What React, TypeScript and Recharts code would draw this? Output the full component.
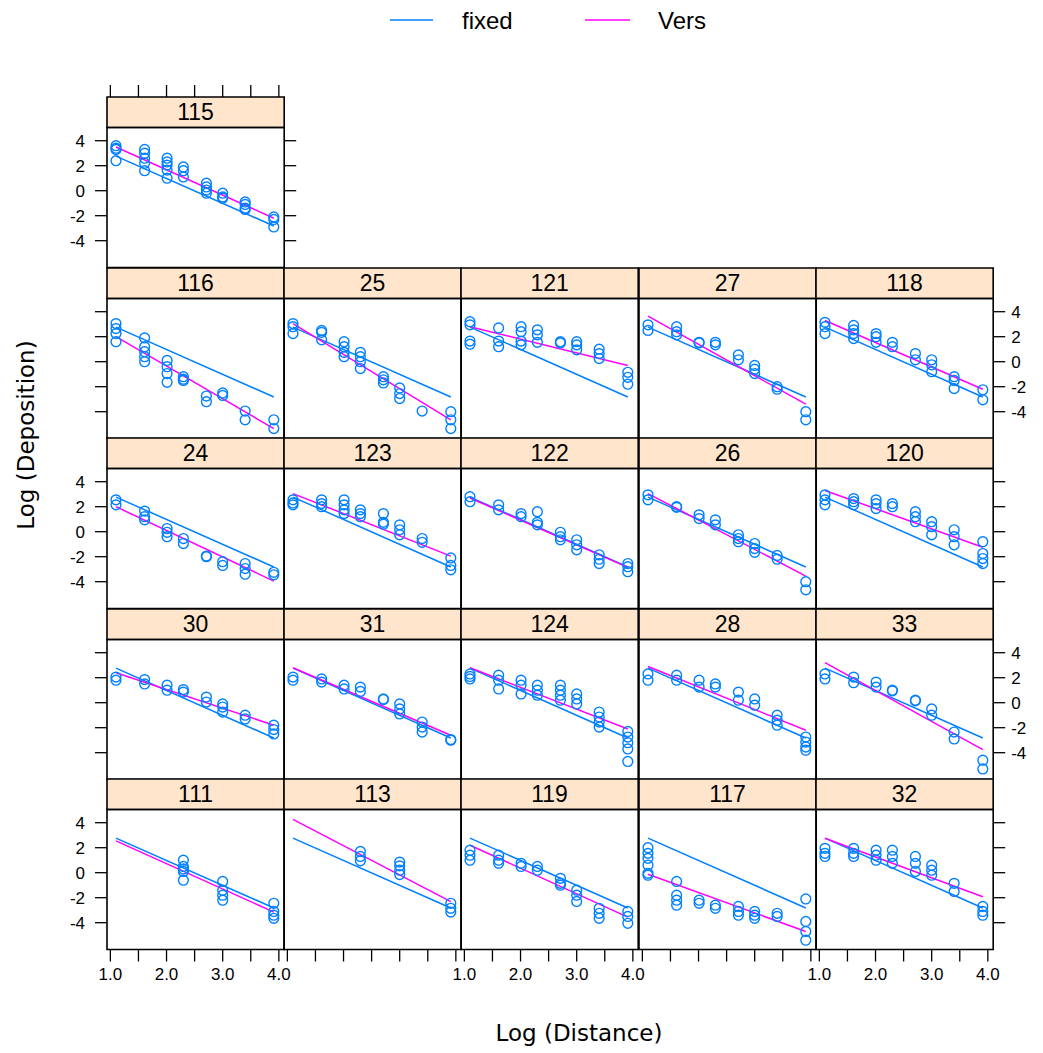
import React from "react";
import {
  ComposedChart,
  Line,
  ReferenceArea,
  Scatter,
  XAxis,
  YAxis,
} from "recharts";

// log distance levels shared by all panels
const logDist = [1.1, 1.61, 2.01, 2.3, 2.71, 3.0, 3.4, 3.91];
const xTicks = [1, 1.5, 2, 2.5, 3, 3.5, 4];
const yTicks = [-4, -2, 0, 2, 4];

// panel order: top-left panel first, then rows of five
const trees = [
  "115",
  "116", "25", "121", "27", "118",
  "24", "123", "122", "26", "120",
  "30", "31", "124", "28", "33",
  "111", "113", "119", "117", "32",
];

// log deposition, one list per distance level
const dep115 = [[3.6, 3.4, 3.3, 2.4], [3.3, 3.0, 2.6, 2.2, 1.6], [2.6, 2.3, 2.05, 1.65, 1.0], [1.9, 1.6, 1.1], [0.6, 0.3, 0.05, -0.2], [-0.2, -0.5, -0.6], [-0.9, -1.1, -1.4, -1.5], [-2.1, -2.3, -2.9]];
const dep116 = [[3.05, 2.65, 2.25, 1.6], [1.9, 1.2, 0.8, 0.4, 0.0], [0.1, -0.4, -0.95, -1.65], [-1.2, -1.4, -1.5], [-2.75, -3.2], [-2.5, -2.7], [-3.95, -4.65], [-4.65, -5.35]];
const dep25 = [[3.05, 2.8, 2.25], [2.5, 2.35, 1.75], [1.6, 1.2, 0.75, 0.4], [0.75, 0.4, 0.0, -0.55], [-1.2, -1.45, -1.7], [-2.1, -2.55, -2.95], [-3.95], [-4.0, -4.65, -5.35]];
const dep121 = [[3.2, 2.95, 1.65, 1.4], [2.7, 1.65, 1.2], [2.8, 2.4, 1.65, 1.35], [2.55, 2.15, 1.55], [1.6, 1.5], [1.6, 1.35, 0.95], [1.0, 0.65, 0.25], [-0.85, -1.25, -1.8]];
const dep27 = [[2.95, 2.5], [2.8, 2.4, 2.15], [1.55, 1.5], [1.55, 1.35], [0.55, 0.15], [-0.3, -0.6, -0.95], [-2.0, -2.2], [-4.0, -4.65]];
const dep118 = [[3.15, 2.8, 2.25], [2.9, 2.55, 2.25, 1.85], [2.25, 2.0, 1.55], [1.55, 1.2], [0.65, 0.15], [0.15, -0.25, -0.8], [-1.2, -1.5, -2.15], [-2.25, -3.05]];
const dep24 = [[2.55, 2.15], [1.65, 1.2, 0.95], [0.25, -0.05, -0.4], [-0.55, -0.95], [-2.0, -1.95], [-2.4, -2.7], [-2.55, -2.95, -3.4], [-3.25, -3.45]];
const dep123 = [[2.55, 2.3, 2.15], [2.55, 2.25, 2.0], [2.55, 2.15, 1.75, 1.45], [1.75, 1.45, 1.2], [1.45, 0.75, 0.6], [0.55, 0.15, -0.25], [-0.55, -0.85], [-2.1, -2.7, -3.05]];
const dep122 = [[2.8, 2.4], [2.15, 1.75], [1.45, 1.2], [1.6, 0.75, 0.55], [-0.05, -0.4, -0.65], [-0.65, -1.05, -1.45], [-1.85, -2.2, -2.55], [-2.55, -2.8, -3.2]];
const dep26 = [[2.95, 2.55], [2.0, 1.95], [1.35, 1.05], [0.95, 0.55], [-0.25, -0.55, -0.8], [-0.95, -1.35, -1.65], [-1.9, -2.2], [-4.0, -4.65]];
const dep120 = [[2.95, 2.55, 2.15], [2.65, 2.4, 2.15], [2.55, 2.25, 1.85], [2.25, 2.0], [1.6, 1.2, 0.8], [0.8, 0.4, -0.25], [0.15, -0.4, -1.05], [-0.8, -1.75, -2.15, -2.55]];
const dep30 = [[2.05, 1.8], [1.85, 1.5], [1.4, 1.0], [1.05, 0.85], [0.45, 0.05], [-0.1, -0.35, -0.75], [-1.0, -1.3], [-1.8, -2.15, -2.5]];
const dep31 = [[2.05, 1.8], [1.9, 1.65], [1.4, 1.1], [1.25, 0.9], [0.3, 0.25], [-0.1, -0.5, -0.9], [-1.55, -1.95, -2.35], [-3.0, -2.95]];
const dep124 = [[2.3, 2.1, 1.9], [2.2, 1.8, 1.1], [1.8, 1.4, 0.7], [1.4, 1.0, 0.6], [1.4, 1.0, 0.6, 0.2], [0.7, 0.3, -0.1], [-0.75, -1.15, -1.55, -1.95], [-2.3, -2.75, -3.2, -3.7, -4.7]];
const dep28 = [[2.3, 1.8], [2.2, 1.8], [1.8, 1.25], [1.5, 1.25], [0.85, 0.2], [0.3, -0.2], [-1.0, -1.4, -1.8], [-2.75, -3.15, -3.55, -3.8]];
const dep33 = [[2.3, 1.9], [2.05, 1.6], [1.65, 1.25], [1.0, 0.95], [0.2, 0.15], [-0.5, -1.0], [-2.35, -2.9], [-4.6, -5.3]];
const dep111 = [[], [], [], [1.0, 0.5, 0.3, 0.1, -0.6], [], [-0.7, -1.4, -1.8, -2.2], [], [-2.45, -3.1, -3.4, -3.65]];
const dep113 = [[], [], [], [1.7, 1.3, 0.95], [], [0.85, 0.55, 0.2, -0.15], [], [-2.45, -2.85, -3.15]];
const dep119 = [[1.8, 1.4, 1.0], [1.4, 1.0, 0.75], [0.75, 0.5], [0.5, 0.2], [-0.45, -0.85, -1.0], [-1.4, -1.8, -2.3], [-2.85, -3.25, -3.65], [-3.1, -3.5, -4.05]];
const dep117 = [[2.0, 1.55, 1.15, 0.6, -0.05, -0.2], [-0.7, -1.8, -2.2, -2.6], [-2.2, -2.45], [-2.6, -2.85], [-2.7, -3.1, -3.4], [-3.1, -3.4, -3.65], [-3.25, -3.5], [-2.1, -3.9, -4.7, -5.4]];
const dep32 = [[1.95, 1.55, 1.3], [1.95, 1.55, 1.3], [1.8, 1.4, 1.0], [1.8, 1.3, 0.75], [1.3, 0.75, 0.1], [0.6, 0.2, -0.2], [-0.85, -1.5], [-2.7, -3.1, -3.4]];

const deposition = [
  dep115,
  dep116, dep25, dep121, dep27, dep118,
  dep24, dep123, dep122, dep26, dep120,
  dep30, dep31, dep124, dep28, dep33,
  dep111, dep113, dep119, dep117, dep32,
];

// fitted lines: value at first and last distance level
const fixedFit = [2.77, -2.82];
const versStart = [3.5, 2.0, 3.05, 2.8, 3.65, 3.3, 2.0, 3.05, 2.7, 3.05, 3.3, 2.4, 2.8, 2.8, 2.9, 3.2, 2.55, 4.27, 2.2, -0.13, 2.75];
const versEnd = [-2.2, -5.35, -4.65, -0.3, -3.4, -2.2, -3.95, -1.95, -2.85, -3.55, -1.25, -1.8, -2.6, -2.1, -2.2, -3.75, -3.15, -2.32, -3.55, -4.7, -1.92];

const BLUE = "#0080ff";
const MAGENTA = "#ff00ff";
const SANS = "'Liberation Sans', Arial, sans-serif";
const TITLE_FONT = "'DejaVu Sans', sans-serif";

const COL0 = 107;
const COL_W = 177.2;
const ROW0 = 97;
const ROW_H = 170.5;
const X_DOMAIN: [number, number] = [0.94, 4.095];
const Y_LOW = -6.144;
const Y_PANEL_TOP = 5.056;
const Y_HIGH = 7.496;
const AX = 50;
const TICK = 12;
const PAD = 16; // spare room so edge labels and borders are not cut

const tickStyle = { fontSize: 17, fill: "#000", fontFamily: SANS };
const tickLineStyle = { stroke: "#000", strokeWidth: 1.3 };

function Circle(props: any) {
  if (props.cx == null || props.cy == null) return null;
  return (
    <circle
      cx={props.cx}
      cy={props.cy}
      r={4.9}
      fill="none"
      stroke={BLUE}
      strokeWidth={1.4}
    />
  );
}

function Panel({ index }: { index: number }) {
  const row = index === 0 ? 0 : 1 + Math.floor((index - 1) / 5);
  const col = index === 0 ? 0 : (index - 1) % 5;
  const hasLeft = col === 0;
  const hasRight = col === 4 || index === 0;
  const hasBottom = row === 4;
  const hasTop = index === 0;

  const left = hasLeft ? AX : 0;
  const right = hasRight ? AX : 0;
  const top = hasTop ? TICK : 0;
  const bottom = hasBottom ? AX : 0;

  const leftLabels = row % 2 === 0;
  const rightLabels = col === 4 && row % 2 === 1;
  const bottomLabels = col % 2 === 0;

  const points = deposition[index].flatMap((ys, i) =>
    ys.map((y) => ({ x: logDist[i], y })),
  );
  const fixedLine = [
    { x: logDist[0], y: fixedFit[0] },
    { x: logDist[7], y: fixedFit[1] },
  ];
  const versLine = [
    { x: logDist[0], y: versStart[index] },
    { x: logDist[7], y: versEnd[index] },
  ];

  return (
    <div
      style={{
        position: "absolute",
        left: COL0 + col * COL_W - left - PAD,
        top: ROW0 + row * ROW_H - top - PAD,
      }}
    >
      <ComposedChart
        width={COL_W + left + right + 2 * PAD}
        height={ROW_H + top + bottom + 2 * PAD}
        margin={{ top: PAD, right: PAD, bottom: PAD, left: PAD }}
      >
        <XAxis
          xAxisId="b"
          dataKey="x"
          type="number"
          domain={X_DOMAIN}
          allowDataOverflow
          hide={!hasBottom}
          height={AX}
          ticks={xTicks}
          interval={0}
          axisLine={false}
          tickSize={TICK}
          tickMargin={6}
          tickLine={tickLineStyle}
          tick={tickStyle}
          tickFormatter={(v: number) =>
            bottomLabels && Number.isInteger(v) ? v.toFixed(1) : ""
          }
        />
        {hasTop && (
          <XAxis
            xAxisId="t"
            orientation="top"
            dataKey="x"
            type="number"
            domain={X_DOMAIN}
            allowDataOverflow
            height={TICK}
            ticks={xTicks}
            interval={0}
            axisLine={false}
            tickSize={TICK}
            tickLine={tickLineStyle}
            tick={tickStyle}
            tickFormatter={() => ""}
          />
        )}
        <YAxis
          yAxisId="l"
          dataKey="y"
          type="number"
          domain={[Y_LOW, Y_HIGH]}
          allowDataOverflow
          hide={!hasLeft}
          width={AX}
          ticks={yTicks}
          interval={0}
          axisLine={false}
          tickSize={TICK}
          tickMargin={10}
          tickLine={tickLineStyle}
          tick={tickStyle}
          tickFormatter={(v: number) => (leftLabels ? String(v) : "")}
        />
        {hasRight && (
          <YAxis
            yAxisId="r"
            orientation="right"
            dataKey="y"
            type="number"
            domain={[Y_LOW, Y_HIGH]}
            allowDataOverflow
            width={AX}
            ticks={yTicks}
            interval={0}
            axisLine={false}
            tickSize={TICK}
            tickMargin={6}
            tickLine={tickLineStyle}
            tick={tickStyle}
            tickFormatter={(v: number) => (rightLabels ? String(v) : "")}
          />
        )}

        <ReferenceArea
          xAxisId="b"
          yAxisId="l"
          x1={X_DOMAIN[0]}
          x2={X_DOMAIN[1]}
          y1={Y_PANEL_TOP}
          y2={Y_HIGH}
          fill="#ffe5cc"
          fillOpacity={1}
          stroke="#000"
          strokeWidth={1.6}
          label={{
            value: trees[index],
            position: "center",
            fontSize: 23,
            fill: "#000",
            fontFamily: SANS,
          }}
        />
        <ReferenceArea
          xAxisId="b"
          yAxisId="l"
          x1={X_DOMAIN[0]}
          x2={X_DOMAIN[1]}
          y1={Y_LOW}
          y2={Y_PANEL_TOP}
          fill="none"
          stroke="#000"
          strokeWidth={1.6}
        />

        <Scatter
          xAxisId="b"
          yAxisId="l"
          data={points}
          dataKey="y"
          shape={Circle}
          isAnimationActive={false}
        />
        <Line
          xAxisId="b"
          yAxisId="l"
          data={fixedLine}
          dataKey="y"
          type="linear"
          stroke={BLUE}
          strokeWidth={1.5}
          dot={false}
          activeDot={false}
          isAnimationActive={false}
        />
        <Line
          xAxisId="b"
          yAxisId="l"
          data={versLine}
          dataKey="y"
          type="linear"
          stroke={MAGENTA}
          strokeWidth={1.5}
          dot={false}
          activeDot={false}
          isAnimationActive={false}
        />
      </ComposedChart>
    </div>
  );
}

export default function App() {
  return (
    <div
      style={{
        position: "absolute",
        left: 0,
        top: 0,
        width: 1043,
        height: 1053,
        background: "#fff",
        overflow: "hidden",
      }}
    >
      <svg
        width={1043}
        height={1053}
        style={{ position: "absolute", left: 0, top: 0 }}
      >
        <line x1={390} x2={433} y1={20} y2={20} stroke={BLUE} strokeWidth={1.6} />
        <text x={462} y={29} fontSize={24} fontFamily={SANS} fill="#000">
          fixed
        </text>
        <line x1={585} x2={630} y1={20} y2={20} stroke={MAGENTA} strokeWidth={1.6} />
        <text x={658} y={29} fontSize={24} fontFamily={SANS} fill="#000">
          Vers
        </text>
        <text
          x={579}
          y={1033}
          fontSize={23}
          fontFamily={TITLE_FONT}
          textAnchor="middle"
          dominantBaseline="central"
          fill="#000"
        >
          Log (Distance)
        </text>
        <text
          x={26}
          y={435}
          fontSize={23}
          fontFamily={TITLE_FONT}
          textAnchor="middle"
          dominantBaseline="central"
          fill="#000"
          transform="rotate(-90 26 435)"
        >
          Log (Deposition)
        </text>
      </svg>
      {trees.map((name, i) => (
        <Panel key={name} index={i} />
      ))}
    </div>
  );
}
